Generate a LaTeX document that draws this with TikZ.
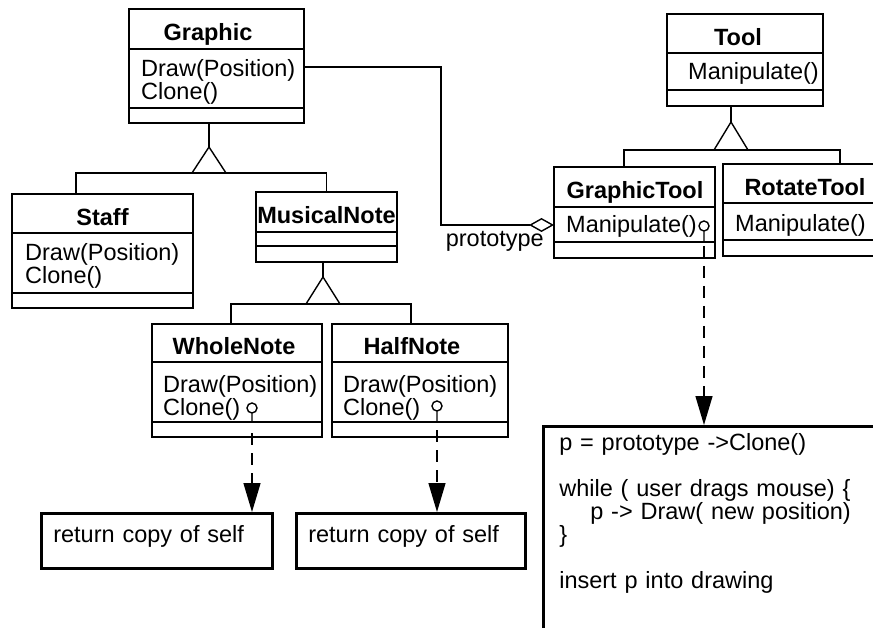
\documentclass[tikz,border=0pt]{standalone}
\usepackage{fontspec}
\setmainfont{Liberation Sans}
\usetikzlibrary{arrows.meta,calc}

\begin{document}
\begin{tikzpicture}[x=1pt,y=-1pt,
    font=\fontsize{23.5}{23}\selectfont,
    cls/.style={draw,line width=1.6pt,anchor=north west,inner sep=0pt,outer sep=0pt},
    title/.style={anchor=base,inner sep=0pt,font=\fontsize{23.5}{23}\selectfont\bfseries},
    ops/.style={anchor=north west,align=left,inner sep=0pt},
    note/.style={draw,line width=2.6pt,anchor=north west,align=left,inner xsep=12pt,inner ysep=0pt,
      text height=17pt,text depth=14pt,minimum height=55pt},
    conn/.style={line width=1.4pt},
    dep/.style={line width=1.4pt,dash pattern=on 12pt off 8pt,-{Triangle[length=29pt,width=17pt]}},
    aggr/.style={line width=1.4pt,-{Diamond[open,length=25pt,width=14pt]}}]
    \useasboundingbox (0,0) rectangle (873,628);
    \clip (0,0) rectangle (873,628);

    % classes
    \node[cls,minimum width=175pt,minimum height=114pt] (graphic) at (129,9) {};
    \node[cls,minimum width=181pt,minimum height=114pt] (staff) at (12,194) {};
    \node[cls,minimum width=141pt,minimum height=70pt] (mnote) at (256,192) {};
    \node[cls,minimum width=170pt,minimum height=113pt] (wnote) at (152,324) {};
    \node[cls,minimum width=176pt,minimum height=113pt] (hnote) at (332,324) {};
    \node[cls,minimum width=156pt,minimum height=92pt] (tool) at (667,14) {};
    \node[cls,minimum width=161pt,minimum height=91pt] (gtool) at (554,167) {};
    \node[cls,minimum width=164pt,minimum height=92pt] (rtool) at (723,164) {};

    \foreach \c/\d in {graphic/40,graphic/99,staff/39,staff/99,mnote/40,mnote/54,
        wnote/38,wnote/98,hnote/38,hnote/98,tool/39,tool/76,gtool/40,gtool/75,rtool/39,rtool/76}
      \draw[conn] ($(\c.north west)+(0,\d)$) -- ($(\c.north east)+(0,\d)$);

    \node[title] (graphicname) at (208,41) {Graphic};
    \node[title] (staffname) at (102.5,226) {Staff};
    \node[title] (mnotename) at (326.5,224) {MusicalNote};
    \node[title] (wnotename) at (234,355) {WholeNote};
    \node[title] (hnotename) at (412,355) {HalfNote};
    \node[title] (toolname) at (738,46) {Tool};
    \node[title] (gtoolname) at (635,199) {GraphicTool};
    \node[title] (rtoolname) at (805,196) {RotateTool};

    \node[ops] (graphicops) at (141,59) {Draw(Position)\\Clone()};
    \node[ops] (staffops) at (25,243) {Draw(Position)\\Clone()};
    \node[ops] (wnoteops) at (163,375) {Draw(Position)\\Clone()};
    \node[ops] (hnoteops) at (343,375) {Draw(Position)\\Clone()};
    \node[ops] (toolops) at (688,62) {Manipulate()};
    \node[ops] (gtoolops) at (566,215) {Manipulate()};
    \node[ops] (rtoolops) at (735,214) {Manipulate()};

    % notes
    \node[note,text width=207pt] (wret) at (40,512) {return copy of self};
    \node[note,text width=205pt] (hret) at (295,512) {return copy of self};
    \node[draw,line width=2.6pt,anchor=north west,align=left,text width=330pt,
      inner xsep=16pt,inner ysep=7pt,text depth=200pt] (code) at (542,425)
      {p = prototype ->Clone()\\[23pt]
       while ( user drags mouse) \{\\
       \hspace*{31pt}p -> Draw( new position)\\
       \}\\[23pt]
       insert p into drawing};

    % inheritance
    \coordinate (gtri) at (209,147);
    \coordinate (gbar) at (76,173);
    \draw[conn] (graphic.south -| gtri) -- (gtri);
    \draw[conn] (gtri) -- ++(17,26) -- ++(-34,0) -- cycle;
    \draw[conn] (staff.north -| gbar) -- (gbar) -- (mnote.north |- gbar) -- (mnote.north);

    \coordinate (mtri) at (323,277);
    \coordinate (mbar) at (231,304);
    \coordinate (mbarend) at (411,304);
    \draw[conn] (mnote.south -| mtri) -- (mtri);
    \draw[conn] (mtri) -- ++(17,27) -- ++(-34,0) -- cycle;
    \draw[conn] (wnote.north -| mbar) -- (mbar) -- (mbarend) -- (hnote.north -| mbarend);

    \coordinate (ttri) at (731,122);
    \coordinate (tbar) at (624,150);
    \coordinate (tbarend) at (840,150);
    \draw[conn] (tool.south -| ttri) -- (ttri);
    \draw[conn] (ttri) -- ++(17,28) -- ++(-34,0) -- cycle;
    \draw[conn] (gtool.north -| tbar) -- (tbar) -- (tbarend) -- (rtool.north -| tbarend);

    % prototype
    \coordinate (aggbend) at (441,150);
    \draw[aggr] ($(graphic.north east)+(0,58)$) -| (aggbend) |- ($(gtool.north west)+(0,58)$);
    \node[anchor=base east,inner sep=0pt] (protolabel) at (544,247) {prototype};

    % implementation notes
    \coordinate (wpin) at (252,408);
    \coordinate (hpin) at (437,406);
    \coordinate (gpin) at (704,226);
    \draw[conn] (wpin) circle[radius=5pt] ($(wpin)+(0,5)$) -- ($(wpin)+(0,14)$);
    \draw[conn] (hpin) circle[radius=5pt] ($(hpin)+(0,5)$) -- ($(hpin)+(0,16)$);
    \draw[conn] (gpin) circle[radius=5pt] ($(gpin)+(0,5)$) -- ($(gpin)+(0,16)$);
    \draw[dep] ($(wpin)+(0,25)$) -- (wpin |- wret.north);
    \draw[dep] ($(hpin)+(0,24)$) -- (hpin |- hret.north);
    \draw[dep] ($(gpin)+(0,20)$) -- (gpin |- code.north);
\end{tikzpicture}
\end{document}
